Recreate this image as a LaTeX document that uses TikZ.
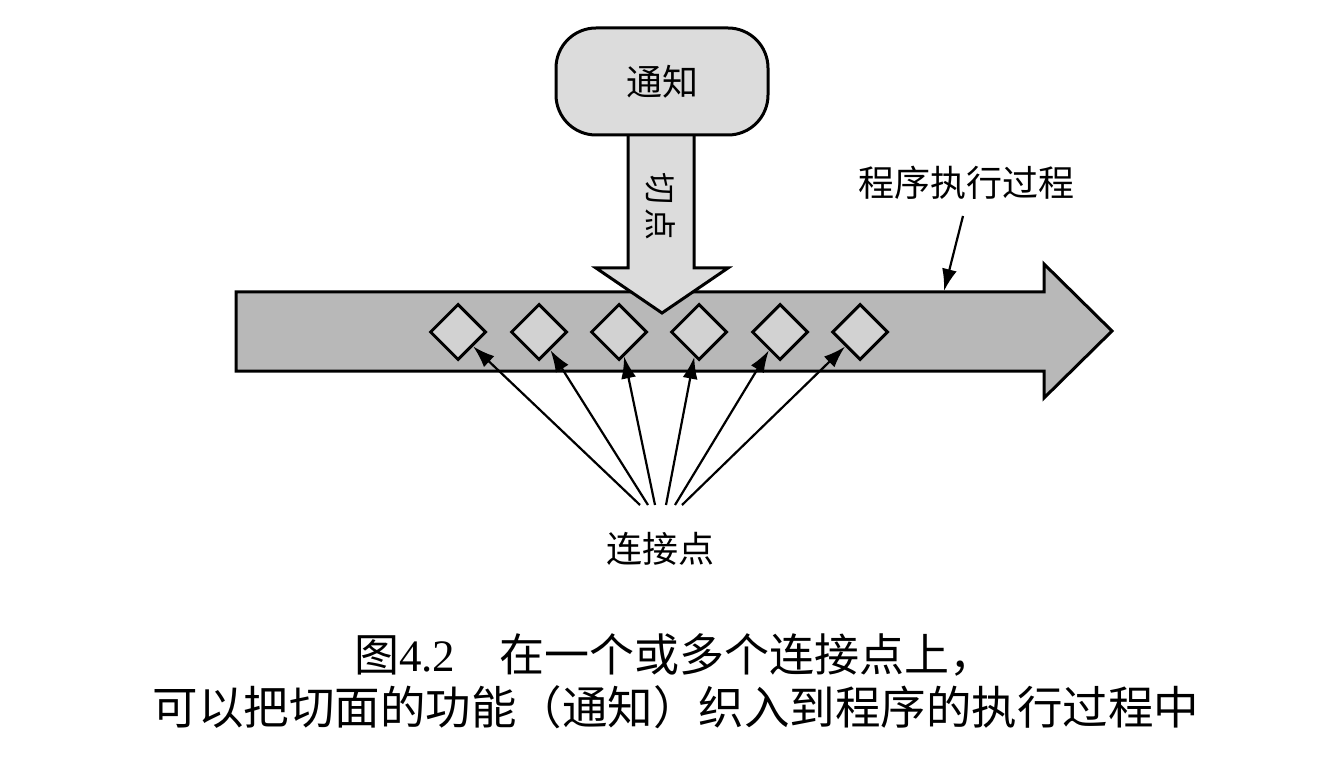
\documentclass[tikz,border=0pt]{standalone}
\usepackage{fontspec}
\newfontfamily\cjk{Noto Sans CJK SC}
\newfontfamily\serifnum{Liberation Serif}
\usetikzlibrary{shapes.geometric,arrows.meta,calc}
\definecolor{lightfill}{HTML}{DCDCDC}
\definecolor{diafill}{HTML}{D2D2D2}
\definecolor{mainfill}{HTML}{B8B8B8}
\tikzset{
  shapeline/.style={draw=black, line width=3pt, line join=miter},
  jp/.style={draw, diamond, shapeline, fill=diafill, minimum width=56pt, minimum height=56pt, inner sep=0pt},
  conn/.style={line width=2.2pt, -{Latex[length=22pt,width=15pt]}},
  lbl/.style={inner sep=0pt, font=\cjk\fontsize{36pt}{40pt}\selectfont}
}
\begin{document}
\begin{tikzpicture}[x=1pt,y=-1pt]
\useasboundingbox (0,0) rectangle (1326,770);
% main execution arrow
\draw[shapeline, fill=mainfill] (236,292) -- (1044,292) -- (1044,264) -- (1112,331) -- (1044,398) -- (1044,371) -- (236,371) -- cycle;
% pointcut arrow
\draw[shapeline, fill=lightfill] (628,134) -- (628,268) -- (596,268) -- (662,313) -- (728,268) -- (694,268) -- (694,134);
\node[shapeline, fill=lightfill, rounded corners=40pt, minimum width=212pt, minimum height=107pt, lbl] (advice) at (662,81.5) {通知};
\node[lbl, rotate=-90, font=\cjk\fontsize{32pt}{36pt}\selectfont] (pc) at (661,207) {切\kern4pt 点};
% join points
\node[jp] (d1) at (458,332) {};
\node[jp] (d2) at (539,332) {};
\node[jp] (d3) at (619,332) {};
\node[jp] (d4) at (699,332) {};
\node[jp] (d5) at (780,332) {};
\node[jp] (d6) at (860,332) {};
% labels
\node[lbl] (exec) at (966,183) {程序执行过程};
\coordinate (execfrom) at (963,216);
\coordinate (execto) at (944,291);
\draw[conn] (execfrom) -- (execto);
\node[lbl] (jpl) at (660,549) {连接点};
\coordinate (s1) at (640,505);
\coordinate (s2) at (648,505);
\coordinate (s3) at (655,505);
\coordinate (s4) at (666,505);
\coordinate (s5) at (675,505);
\coordinate (s6) at (682,505);
\draw[conn] (s1) -- (d1);
\draw[conn] (s2) -- (d2);
\draw[conn] (s3) -- (d3);
\draw[conn] (s4) -- (d4);
\draw[conn] (s5) -- (d5);
\draw[conn] (s6) -- (d6);
% caption
\node[inner sep=0pt, anchor=west, font=\cjk\fontsize{45pt}{48pt}\selectfont] (cap1) at (354,655) {图{\serifnum 4.2}\hspace{44pt}在一个或多个连接点上，};
\node[inner sep=0pt, font=\cjk\fontsize{45.5pt}{48pt}\selectfont] (cap2) at (676,707) {可以把切面的功能（通知）织入到程序的执行过程中};
\end{tikzpicture}
\end{document}
